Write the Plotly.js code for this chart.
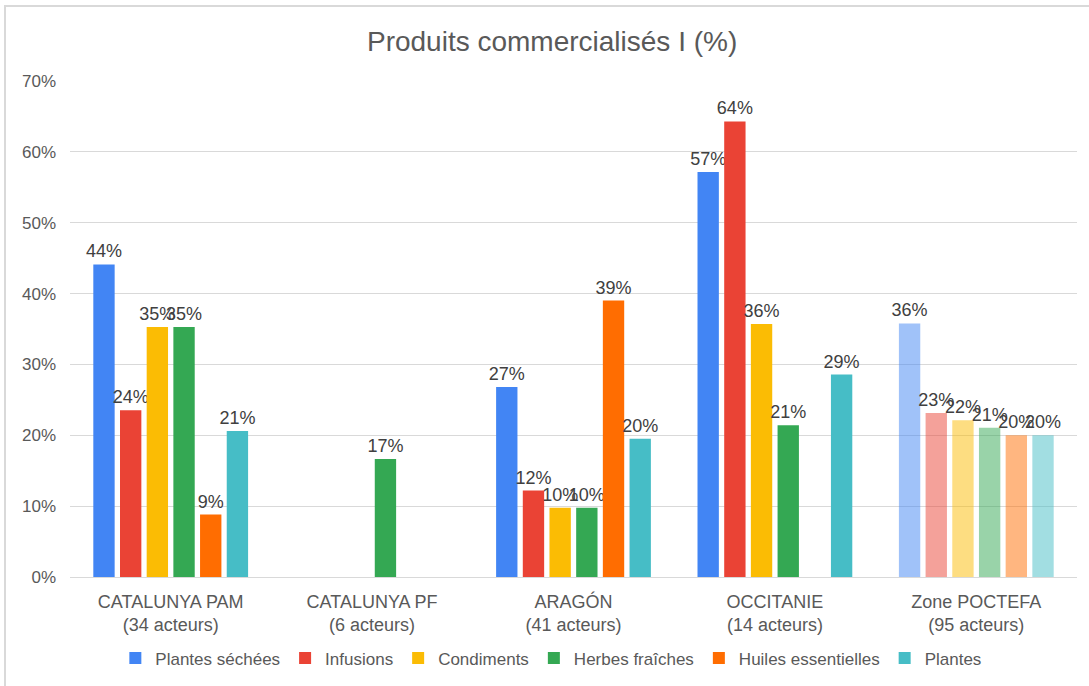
<!DOCTYPE html>
<html>
<head>
<meta charset="utf-8">
<script src="https://cdn.plot.ly/plotly-3.0.1.min.js"></script>
<style>
  html, body { margin: 0; padding: 0; background: #fff; }
  #chart { width: 1089px; height: 686px; position: absolute; left: 0; top: 0; }
  #frame { position: absolute; left: 4px; top: 5px; width: 1100px; height: 700px;
           border-top: 2px solid #d9d9d9; border-left: 2px solid #d9d9d9; pointer-events: none; }
</style>
</head>
<body>
<div id="chart"></div>
<div id="frame"></div>
<script>
const categories = [
  "CATALUNYA PAM<br>(34 acteurs)",
  "CATALUNYA PF<br>(6 acteurs)",
  "ARAGÓN<br>(41 acteurs)",
  "OCCITANIE<br>(14 acteurs)",
  "Zone POCTEFA<br>(95 acteurs)"
];
const seriesNames = ["Plantes séchées", "Infusions", "Condiments", "Herbes fraîches", "Huiles essentielles", "Plantes"];
const plantesSechees     = [44.12, null, 26.83, 57.14, 35.79];
const infusions          = [23.53, null, 12.20, 64.29, 23.16];
const condiments         = [35.29, null, 9.76, 35.71, 22.11];
const herbesFraiches     = [35.29, 16.67, 9.76, 21.43, 21.05];
const huilesEssentielles = [8.82, null, 39.02, null, 20.00];
const plantes            = [20.59, null, 19.51, 28.57, 20.00];
const seriesValues = [plantesSechees, infusions, condiments, herbesFraiches, huilesEssentielles, plantes];
const colors = ["#4285F4", "#EA4335", "#FBBC04", "#34A853", "#FF6D01", "#46BDC6"];
const catOpacity = [1, 1, 1, 1, 0.5];
const yTicks = [0, 10, 20, 30, 40, 50, 60, 70];

const font = "Liberation Sans, Arial, sans-serif";
const traces = seriesValues.map((vals, i) => ({
  type: "bar",
  name: seriesNames[i],
  x: categories,
  y: vals,
  marker: { color: colors[i], opacity: catOpacity },
  texttemplate: "%{y:.0f}%",
  textposition: "outside",
  textangle: 0,
  constraintext: "none",
  cliponaxis: false,
  textfont: { family: font, size: 18, color: "#404040" },
  hoverinfo: "skip"
}));

const layout = {
  width: 1089, height: 686,
  margin: { l: 70, r: 12, t: 81, b: 109, autoexpand: false },
  paper_bgcolor: "#ffffff",
  plot_bgcolor: "#ffffff",
  title: { text: "Produits commercialisés I (%)", x: 0.507, xanchor: "center", y: 0.94, yanchor: "middle",
           font: { family: font, size: 28, color: "#595959" } },
  barmode: "group",
  bargap: 0.205,
  bargroupgap: 0.2,
  showlegend: true,
  legend: { orientation: "h", x: 0.478, xanchor: "center", y: -0.164, yanchor: "middle",
            font: { family: font, size: 17, color: "#595959" }, itemwidth: 30, traceorder: "normal" },
  xaxis: { type: "category", showgrid: false, zeroline: false, showline: false, ticks: "",
           ticklabelstandoff: 12, automargin: false,
           tickfont: { family: font, size: 18, color: "#595959" } },
  yaxis: { range: [0, 70], tickvals: yTicks, ticktext: yTicks.map(v => v + "%"),
           showgrid: true, gridcolor: "#d9d9d9", gridwidth: 1, zeroline: true, zerolinecolor: "#d9d9d9",
           zerolinewidth: 1, showline: false, ticks: "", ticklen: 0, ticklabelstandoff: 13, automargin: false,
           tickfont: { family: font, size: 17, color: "#595959" } }
};

Plotly.newPlot("chart", traces, layout, { displayModeBar: false, staticPlot: true });
</script>
</body>
</html>
